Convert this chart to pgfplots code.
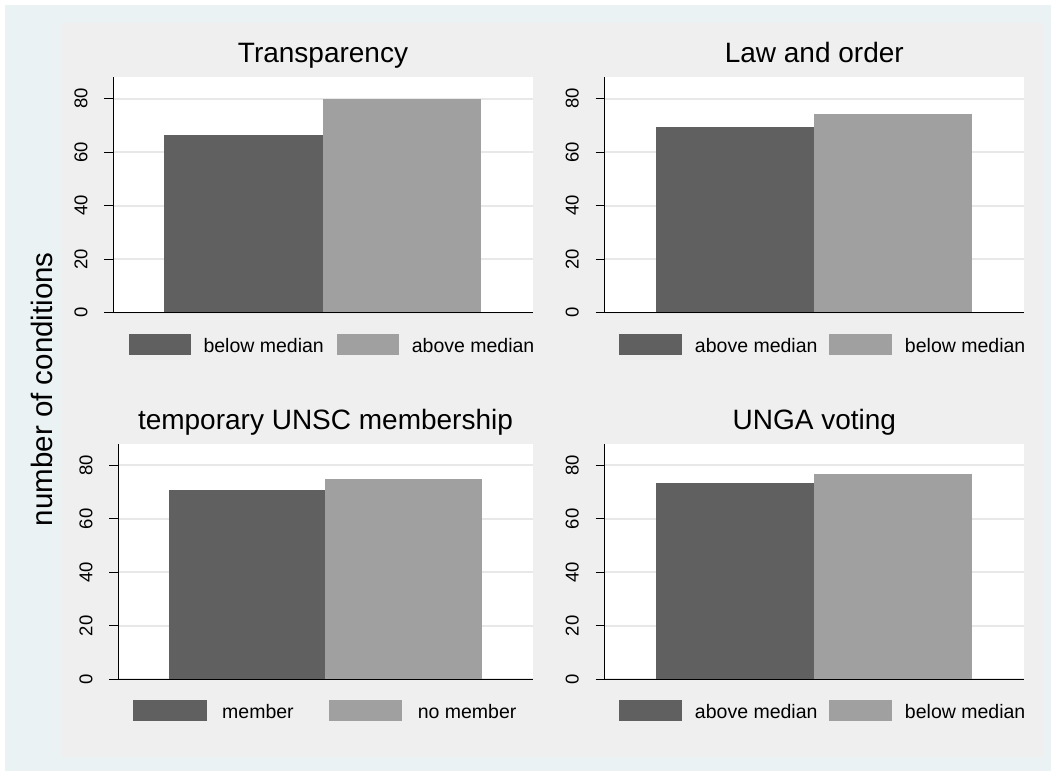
\documentclass[border=0pt]{standalone}
\usepackage{fontspec}
\setmainfont{Liberation Sans}
\usepackage{pgfplots}
\pgfplotsset{compat=1.18}

\definecolor{outerbg}{RGB}{234,242,243}
\definecolor{innerbg}{RGB}{239,239,239}
\definecolor{bardark}{RGB}{96,96,96}
\definecolor{barlight}{RGB}{160,160,160}
\definecolor{gridc}{RGB}{232,232,232}

\pgfplotsset{
  panel/.style={
    scale only axis, height=235.4bp, anchor=south west,
    xmin=0.177, xmax=2.826, ymin=0, ymax=88,
    ybar, bar width=1,
    every axis plot/.append style={bar shift=0pt},
    axis background/.style={fill=white},
    axis x line*=bottom, axis y line*=left,
    axis line style={line width=1.4bp, black, -},
    xtick=\empty, ytick={0,20,40,60,80},
    ymajorgrids, grid style={gridc, line width=2bp},
    tick align=outside, major tick length=9bp,
    every tick/.style={black, line width=1.3bp},
    tick label style={font=\fontsize{18.5bp}{22bp}\selectfont},
    /pgf/number format/assume math mode=true,
    yticklabel style={xshift=-16.6bp, rotate=90, anchor=south, inner sep=0pt},
    title style={font=\fontsize{28bp}{31bp}\selectfont, anchor=base, at={(0.5,1)}, yshift=8.7bp},
    legend columns=2, legend cell align=left,
    legend style={draw=none, fill=none, inner sep=0pt, anchor=west,
      font=\fontsize{19.5bp}{22bp}\selectfont, nodes={inner sep=0pt}},
  },
  legbox/.style={legend image code/.code={\fill[##1] (0bp,-8.7bp) rectangle (#1,12.3bp);}},
  legsep/.style n args={2}{legend style={
      /tikz/every odd column/.style={column sep=#1},
      /tikz/every even column/.style={column sep=#2}}},
}
\newcommand\baseline{\draw[line width=1.4bp, black] (rel axis cs:0,0) -- (rel axis cs:1,0);}

\begin{document}
\begin{tikzpicture}
\fill[white] (0,0) rectangle (1051bp,771bp);
\fill[outerbg] (5bp,0) rectangle (1051bp,766bp);
\fill[innerbg] (62bp,14bp) rectangle (1044bp,748bp);
\node[rotate=90, anchor=base, font=\fontsize{29.5bp}{33bp}\selectfont] at (52bp,381.8bp) {number of conditions};

% top left
\begin{axis}[panel, at={(113.3bp,458.33bp)}, width=419.4bp, title={Transparency},
  legbox=62bp, legsep={13bp}{13bp}, legend style={at={(0.0358,-0.135)}}]
\addplot[fill=bardark, draw=none] coordinates {(1,66.4)};
\addplot[fill=barlight, draw=none] coordinates {(2,79.9)};
\legend{below median, above median}
\baseline
\end{axis}

% top right
\begin{axis}[panel, at={(604.6bp,458.33bp)}, width=419.4bp, title={Law and order},
  legbox=62.5bp, legsep={13bp}{12bp}, legend style={at={(0.035,-0.135)}}]
\addplot[fill=bardark, draw=none] coordinates {(1,69.5)};
\addplot[fill=barlight, draw=none] coordinates {(2,74.3)};
\legend{above median, below median}
\baseline
\end{axis}

% bottom left
\begin{axis}[panel, at={(118.3bp,91.67bp)}, width=414.4bp, title={temporary UNSC membership},
  legbox=73.5bp, legsep={15.6bp}{35bp}, legend style={at={(0.0352,-0.134)}}]
\addplot[fill=bardark, draw=none] coordinates {(1,70.9)};
\addplot[fill=barlight, draw=none] coordinates {(2,75.0)};
\legend{member, no member}
\baseline
\end{axis}

% bottom right
\begin{axis}[panel, at={(604.6bp,91.67bp)}, width=419.4bp, title={UNGA voting},
  legbox=62.5bp, legsep={13bp}{12bp}, legend style={at={(0.035,-0.134)}}]
\addplot[fill=bardark, draw=none] coordinates {(1,73.4)};
\addplot[fill=barlight, draw=none] coordinates {(2,76.6)};
\legend{above median, below median}
\baseline
\end{axis}
\end{tikzpicture}
\end{document}
